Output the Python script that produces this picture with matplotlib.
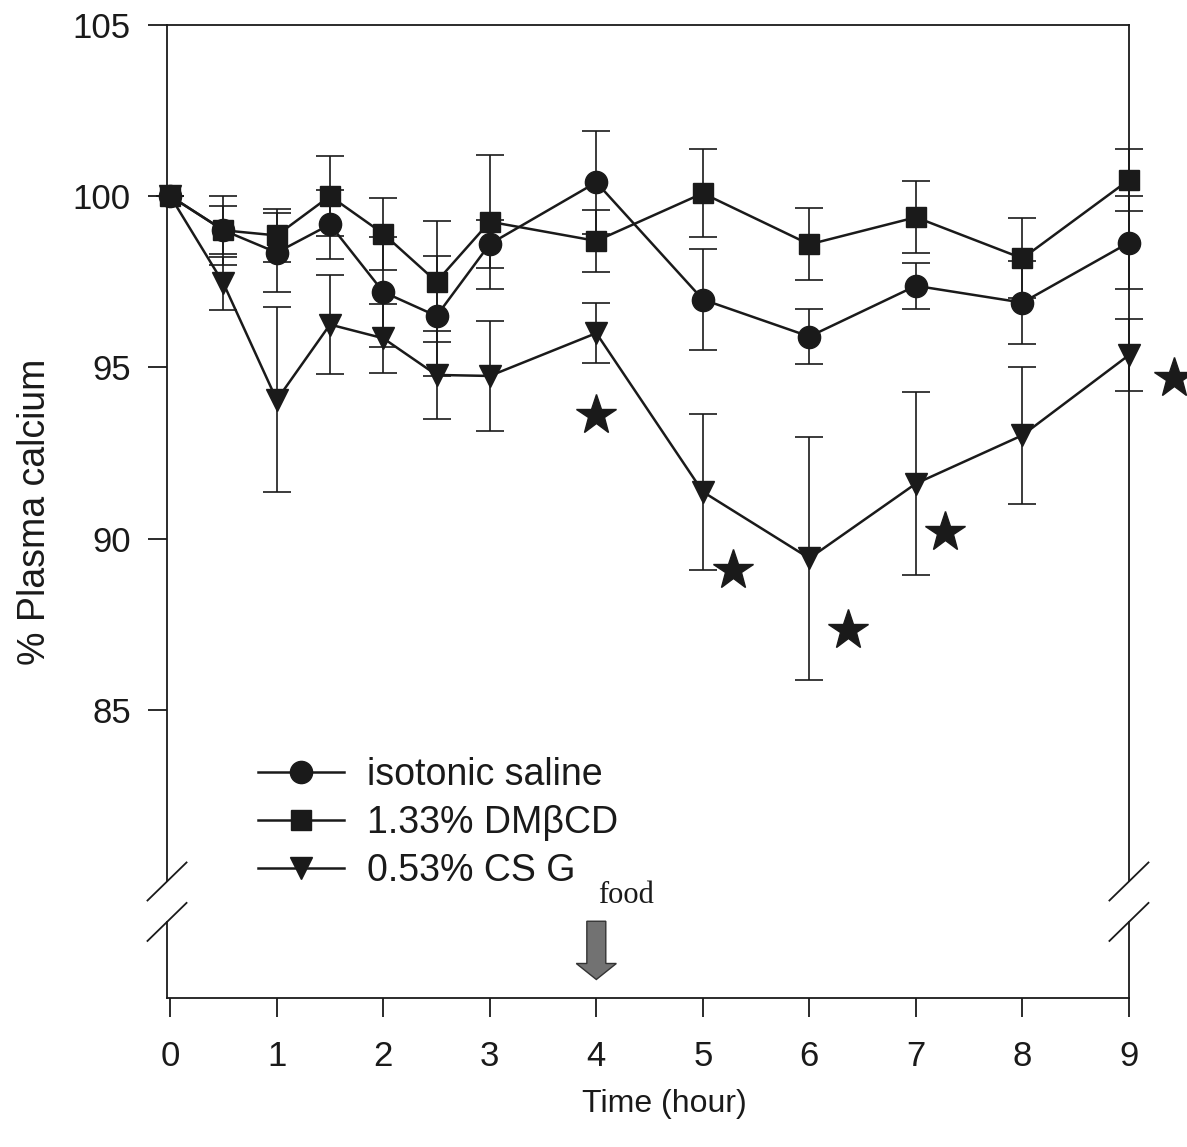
import matplotlib
matplotlib.use("Agg")
import matplotlib.pyplot as plt
from matplotlib.patches import FancyArrow

plt.rcParams["font.family"] = ["Liberation Sans", "DejaVu Sans"]

# --- data ---
hours = [0, 0.5, 1, 1.5, 2, 2.5, 3, 4, 5, 6, 7, 8, 9]

saline = [100, 99.0, 98.35, 99.17, 97.2, 96.5, 98.6, 100.4, 96.98, 95.9, 97.38, 96.89, 98.64]
saline_err = [0, 0.7, 1.15, 1.0, 1.6, 1.75, 0.7, 1.5, 1.48, 0.8, 0.68, 1.2, 1.36]

dmbcd = [100, 99.0, 98.85, 100.0, 98.9, 97.5, 99.25, 98.69, 100.08, 98.59, 99.38, 98.18, 100.47]
dmbcd_err = [0, 1.0, 0.78, 1.17, 1.05, 1.77, 1.95, 0.9, 1.28, 1.05, 1.05, 1.17, 0.9]

csg = [100, 97.45, 94.05, 96.25, 95.85, 94.78, 94.75, 96.0, 91.37, 89.43, 91.61, 93.02, 95.36]
csg_err = [0, 0.77, 2.7, 1.45, 1.0, 1.28, 1.6, 0.88, 2.27, 3.55, 2.67, 2.0, 1.05]

star_x = [4.0, 5.28, 6.36, 7.27, 9.42]
star_y = [93.6, 89.08, 87.33, 90.2, 94.7]

labels = ["isotonic saline", "1.33% DM\u03b2CD", "0.53% CS G"]
xticks = list(range(10))
yticks = [85, 90, 95, 100, 105]

fig = plt.figure(figsize=(11.87, 11.47), dpi=100)
ax = fig.add_axes([0.1407, 0.1299, 0.8104, 0.8486])
ax.set_xlim(-0.03, 9.0)
ax.set_ylim(76.6, 105)

ink = "#1a1a1a"
series = [
    (saline, saline_err, "o", 16),
    (dmbcd, dmbcd_err, "s", 14),
    (csg, csg_err, "v", 16),
]
handles = []
for (vals, err, mk, ms), lab in zip(series, labels):
    eb = ax.errorbar(hours, vals, yerr=err, fmt="-" + mk, color=ink, ms=ms,
                     lw=1.8, elinewidth=1.2, capsize=10, capthick=1.2,
                     ecolor=ink, label=lab, clip_on=False, zorder=3)
    handles.append(eb.lines[0])

ax.plot(star_x, star_y, "*", color=ink, ms=30, clip_on=False, zorder=4)

# --- spines, with the broken y axis drawn by hand ---
for side in ["left", "right"]:
    ax.spines[side].set_visible(False)
for side in ["top", "bottom"]:
    ax.spines[side].set_linewidth(1.3)
    ax.spines[side].set_color(ink)

gap_top, gap_bot = 80.0, 78.82
trans = ax.get_yaxis_transform()
for xa in [0, 1]:
    ax.plot([xa, xa], [105, gap_top], color=ink, lw=1.3, transform=trans, clip_on=False)
    ax.plot([xa, xa], [gap_bot, 76.6], color=ink, lw=1.3, transform=trans, clip_on=False)
    for yc in [gap_top, gap_bot]:
        ax.plot([xa - 0.0203, xa + 0.0203], [yc - 0.555, yc + 0.555], color=ink,
                lw=1.3, transform=trans, clip_on=False)

ax.set_xticks(xticks)
ax.set_yticks(yticks)
ax.tick_params(axis="both", direction="out", length=14, width=1.3, colors=ink,
               labelsize=25)
ax.tick_params(axis="y", pad=12)
ax.tick_params(axis="x", pad=16)

ax.set_xlabel("Time (hour)", fontsize=23, color=ink, labelpad=12, x=0.517)
ax.set_ylabel("% Plasma calcium", fontsize=27, color=ink, labelpad=14)

# --- food marker ---
arrow = FancyArrow(4.0, 78.84, 0, -1.70, width=0.178, head_width=0.376,
                   head_length=0.467, length_includes_head=True,
                   facecolor="#727272", edgecolor="#333333", lw=1.0,
                   clip_on=False, zorder=3)
ax.add_patch(arrow)
ax.text(4.28, 79.6, "food", family=["Liberation Serif", "DejaVu Serif"],
        fontsize=22, ha="center", va="center", color=ink)

ax.legend(handles=handles, labels=labels, loc="upper left",
          bbox_to_anchor=(258 / 1187, 1 - 757 / 1147),
          bbox_transform=fig.transFigure, frameon=False, fontsize=27,
          handlelength=2.3, handletextpad=0.6, labelspacing=0.32,
          borderpad=0, borderaxespad=0, labelcolor=ink)

fig.savefig("out.png", dpi=100)
